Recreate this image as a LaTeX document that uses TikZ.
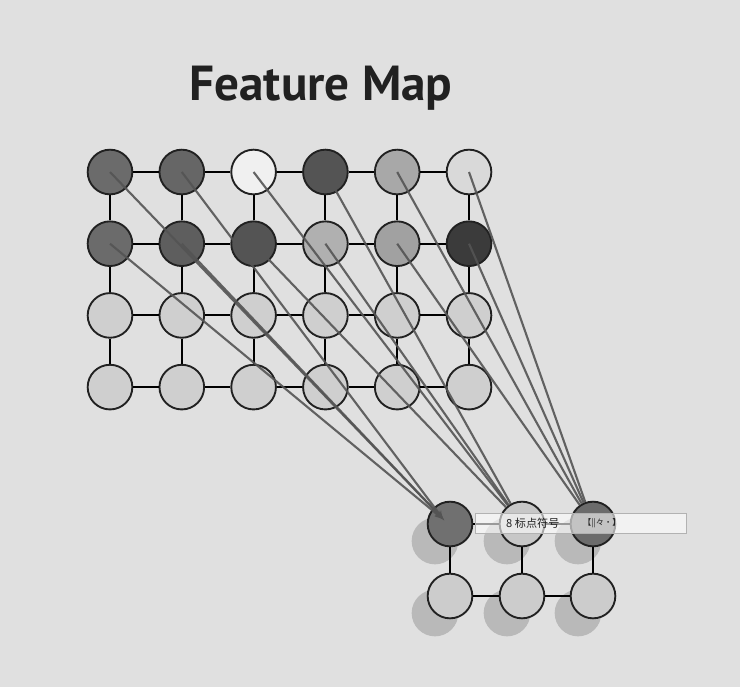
\documentclass[tikz,border=0pt]{standalone}
\usepackage{fontspec}
\newfontfamily\titlefont{PT Sans}
\newfontfamily\cjk{Noto Sans CJK SC}
\usetikzlibrary{arrows}
\usetikzlibrary{positioning}
\definecolor{paper}{gray}{0.88}
\definecolor{ink}{gray}{0.13}
\definecolor{wire}{gray}{0.33}
\tikzset{cell/.style = {circle, draw = ink, line width = 1.6pt, inner sep = 0, minimum size = 1.34cm}}
\tikzset{shadow/.style = {circle, fill = black!40, fill opacity = 0.55, inner sep = 0, minimum size = 1.4cm}}
\tikzset{edge/.style = {black, line width = 1.6pt}}
\tikzset{link/.style = {wire, line width = 1.8pt, draw opacity = 0.9}}
\tikzset{title/.style = {anchor = base, text = ink, font = \titlefont\bfseries\fontsize{42}{48}\selectfont}}
\tikzset{imebar/.style = {draw = gray!60, fill = white, fill opacity = 0.6, text opacity = 1,
                          minimum width = 6.33cm, minimum height = 0.6cm, inner sep = 0}}
\tikzset{imetext/.style = {anchor = west, inner sep = 0, text = ink}}

\begin{document}
\begin{tikzpicture}[x = 0.03cm, y = -0.03cm]
           \fill [paper] (0, 0) rectangle (740, 687);
           \useasboundingbox (0, 0) rectangle (740, 687);

           \node [title] (title) at (321, 100) {Feature Map};

           % feature map
           \foreach \r/\c/\g in {0/0/42, 0/1/40, 0/2/94, 0/3/33, 0/4/66, 0/5/85,
                                 1/0/42, 1/1/37, 1/2/33, 1/3/69, 1/4/63, 1/5/23,
                                 2/0/81, 2/1/81, 2/2/81, 2/3/81, 2/4/81, 2/5/81,
                                 3/0/81, 3/1/81, 3/2/81, 3/3/81, 3/4/81, 3/5/81}
             \node [cell, fill = white!\g!black] (f\r\c) at ({110 + 71.8*\c}, {172 + 71.7*\r}) {};

           \foreach \r in {0, ..., 3} {
             \foreach \c in {0, ..., 4} {
               \pgfmathtruncatemacro\nxt{\c + 1}
               \draw [edge] (f\r\c) -- (f\r\nxt);
             }
           }
           \foreach \c in {0, ..., 5} {
             \draw [edge] (f0\c) -- (f1\c);
             \draw [edge] (f1\c) -- (f2\c);
             \draw [edge] (f2\c) -- (f3\c);
           }

           % pooled map
           \foreach \i/\x/\y in {0/450/524, 1/522/524, 2/593/524, 3/450/596, 4/522/596, 5/593/596}
             \node [shadow] (s\i) at (\x - 15, \y + 17) {};
           \node [cell, fill = white!44!black] (p0) at (450, 524) {};
           \node [cell, fill = white!78!black] (p1) at (522, 524) {};
           \node [cell, fill = white!42!black] (p2) at (593, 524) {};
           \node [cell, fill = white!80!black] (p3) at (450, 596) {};
           \node [cell, fill = white!80!black] (p4) at (522, 596) {};
           \node [cell, fill = white!80!black] (p5) at (593, 596) {};

           \draw [edge] (p0) -- (p1);
           \draw [edge] (p1) -- (p2);
           \draw [edge] (p3) -- (p4);
           \draw [edge] (p4) -- (p5);
           \draw [edge] (p0) -- (p3);
           \draw [edge] (p1) -- (p4);
           \draw [edge] (p2) -- (p5);

           \foreach \s in {00, 01, 10, 11}
             \draw [link, -latex'] (f\s.center) -- ([shift = {(-6, -4)}] p0.center);
           \foreach \s in {02, 03, 12, 13}
             \draw [link] (f\s.center) -- (p1);
           \foreach \s in {04, 05, 14, 15}
             \draw [link] (f\s.center) -- (p2);

           % input bar
           \node [imebar] (ime) at (580.5, 523) {};
           \node [imetext, font = \cjk\fontsize{9.5}{10}\selectfont] (imelabel) at (506, 523) {8 标点符号};
           \node [imetext, font = \cjk\fontsize{7}{8}\selectfont] (imemark) at (583, 523) {【||々·】};
\end{tikzpicture}
\end{document}
